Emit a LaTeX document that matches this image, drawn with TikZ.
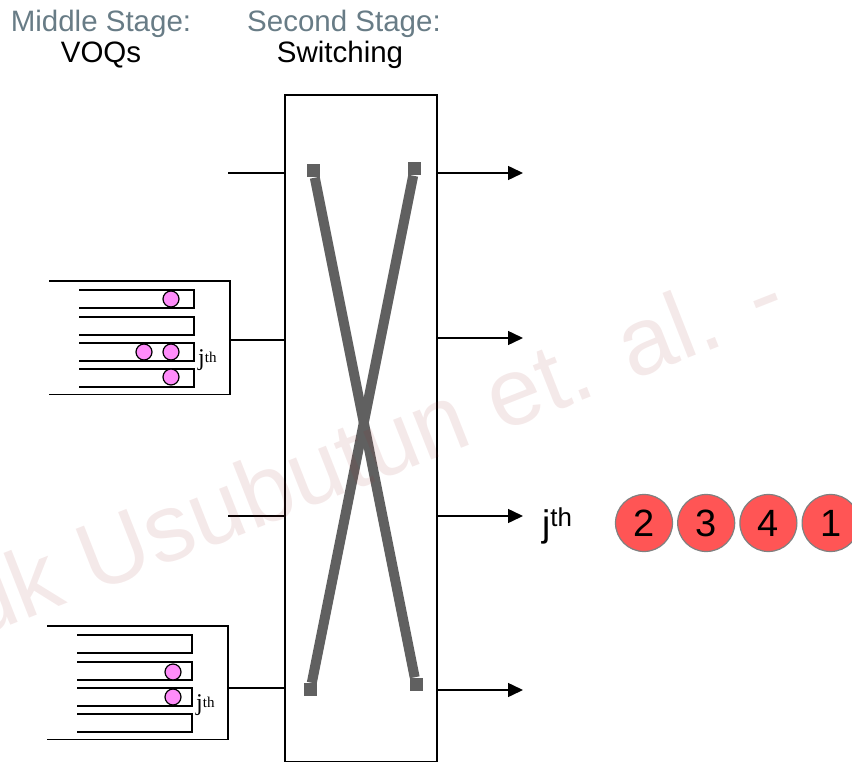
\documentclass[tikz,border=0pt]{standalone}
\usepackage{fontspec}
\setmainfont{Liberation Serif}
\setsansfont{Liberation Sans}
\usetikzlibrary{arrows.meta, positioning}

\definecolor{hdrgray}{RGB}{104,124,134}
\definecolor{bargray}{RGB}{96,96,96}
\definecolor{pktpink}{RGB}{255,140,250}
\definecolor{cellred}{RGB}{255,85,85}
\definecolor{wmark}{RGB}{150,40,40}

\begin{document}
\begin{tikzpicture}[x=1pt, y=-1pt,
    hdr/.style={font=\sffamily\fontsize{29.5}{30}\selectfont, text=hdrgray, inner sep=0pt, anchor=base},
    hdrname/.style={hdr, text=black},
    swbox/.style={rectangle, draw, line width=1.5pt, minimum width=152pt, minimum height=667pt, inner sep=0pt},
    wire/.style={line width=1.5pt},
    outwire/.style={wire, -{Triangle[length=15pt, width=14pt]}},
    bar/.style={draw=bargray, line width=10pt},
    barend/.style={rectangle, fill=bargray, minimum size=13pt, inner sep=0pt},
    queue/.style={line width=1.7pt},
    pkt/.style={circle, draw, fill=pktpink, line width=1.2pt, minimum size=16pt, inner sep=0pt},
    jlbl/.style={font=\fontsize{24}{24}\selectfont, inner sep=0pt, anchor=base west},
    cell/.style={circle, draw=gray, fill=cellred, line width=1.2pt, minimum size=57pt, inner sep=0pt, font=\sffamily\fontsize{38}{38}\selectfont}
]
\useasboundingbox (0,0) rectangle (852,762);

% stage titles
\node[hdr] (midhdr) at (101,32) {Middle Stage:};
\node[hdrname] (midname) at (101,63) {VOQs};
\node[hdr] (sechdr) at (344,32) {Second Stage:};
\node[hdrname] (secname) at (340,63) {Switching};

% crossbar
\node[swbox] (sw) at (361,428.5) {};
\node[barend] (tl) at (313.5,171) {};
\node[barend] (tr) at (414.5,169) {};
\node[barend] (bl) at (310.5,689.5) {};
\node[barend] (br) at (416,684) {};
\draw[bar] (tl) -- (br);
\draw[bar] (tr) -- (bl);

% inputs and outputs
\foreach \yin/\xin/\yout [count=\i] in {173/228/173, 340/230/338, 516/228/516, 688/227/690} {
  \coordinate (in\i) at (\xin,\yin);
  \coordinate (out\i) at (523,\yout);
  \draw[wire] (in\i) -- (in\i -| sw.west);
  \draw[outwire] (sw.east |- out\i) -- (out\i);
}

% VOQ blocks
\foreach \bx/\by/\nm in {49/281/a, 47/626/b} {
  \begin{scope}[shift={(\bx,\by)}]
    \draw[queue] (0,0) -- (181,0) -- (181,113.5) -- (0,113.5);
    \foreach \qy in {9,36,62,88}
      \draw[queue] (30,\qy) -- (145,\qy) -- (145,\qy+18) -- (30,\qy+18);
    \node[jlbl] (j\nm) at (149,84) {j\raisebox{3pt}{\fontsize{15}{15}\selectfont th}};
  \end{scope}
}

% packets
\node[pkt] (pa1) at (171,299) {};
\node[pkt] (pa2) at (144,352) {};
\node[pkt] (pa3) at (171,352) {};
\node[pkt] (pa4) at (171,377) {};
\node[pkt] (pb1) at (173,672) {};
\node[pkt] (pb2) at (173,697) {};

% output order
\node[font=\sffamily\fontsize{37}{37}\selectfont, inner sep=0pt, anchor=base west] (jout) at (542,536) {j\textsuperscript{th}};
\node[cell] (c2) at (644,523) {2};
\node[cell, right=4pt of c2] (c3) {3};
\node[cell, right=4pt of c3] (c4) {4};
\node[cell, right=4pt of c4] (c1) {1};

% watermark
\node[font=\sffamily\fontsize{96}{96}\selectfont, text=wmark, text opacity=0.1, rotate=21.5, anchor=base west, inner sep=0pt] (wm) at (-26,640) {uk Usubutun et. al. -};
\end{tikzpicture}
\end{document}
